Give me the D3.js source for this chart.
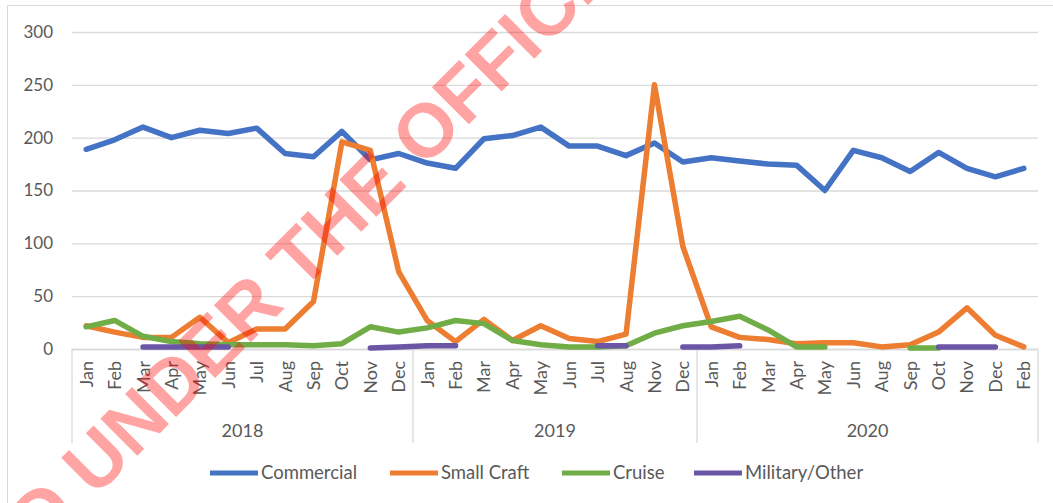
<!DOCTYPE html>
<html>
<head>
<meta charset="utf-8">
<script src="https://cdn.jsdelivr.net/npm/d3@7"></script>
<style>
  html, body { margin: 0; padding: 0; background: #fff; }
  svg { display: block; }
  .tick text { font-family: Lato, "Open Sans", sans-serif; fill: #595959; }
</style>
</head>
<body>
<svg id="chart" width="1053" height="503"></svg>
<script>
// Month categories, grouped by year
const years = ["2018", "2019", "2020"];
const months2018 = ["Jan","Feb","Mar","Apr","May","Jun","Jul","Aug","Sep","Oct","Nov","Dec"];
const months2019 = ["Jan","Feb","Mar","Apr","May","Jun","Jul","Aug","Nov","Dec"];
const months2020 = ["Jan","Feb","Mar","Apr","May","Jun","Aug","Sep","Oct","Nov","Dec","Feb"];

// Monthly counts per vessel type (null = no record that month)
const commercial = [189,198,210,200,207,204,209,185,182,206,179,185,
                    176,171,199,202,210,192,192,183,195,177,
                    181,178,175,174,150,188,181,168,186,171,163,171];
const smallCraft = [22,16,11,11,30,6,19,19,45,196,188,73,
                    27,7,28,8,22,10,7,14,250,97,
                    21,11,9,5,6,6,2,4,16,39,13,2];
const cruise     = [21,27,12,7,5,4,4,4,3,5,21,16,
                    20,27,24,8,4,2,2,3,15,22,
                    26,31,18,2,2,null,null,1,1,null,null,null];
const military   = [null,null,2,2,2,2,null,null,null,null,1,2,
                    3,3,null,null,null,null,3,3,null,2,
                    2,3,null,null,null,null,null,null,2,2,2,null];

const seriesNames  = ["Commercial", "Small Craft", "Cruise", "Military/Other"];
const seriesValues = [commercial, smallCraft, cruise, military];
const seriesColors = ["#4472C4", "#ED7D31", "#70AD47", "#6B56A6"];

const yTicks = [0, 50, 100, 150, 200, 250, 300];

const monthGroups = [months2018, months2019, months2020];
const monthLabels = monthGroups.flat();
const idx = d3.range(monthLabels.length);

const svg = d3.select("#chart");
const plotLeft = 72, plotRight = 1038, plotTop = 32, plotBottom = 349;

const x = d3.scaleBand().domain(idx).range([plotLeft, plotRight]);
const y = d3.scaleLinear().domain([0, 300]).range([plotBottom, plotTop]);
const cx = i => x(i) + x.bandwidth() / 2;

// Outer chart frame
svg.append("rect")
  .attr("x", 7.5).attr("y", 5.5).attr("width", 1060).attr("height", 520)
  .attr("fill", "none").attr("stroke", "#d9d9d9").attr("stroke-width", 1);

// Value axis with gridlines
const yAxis = svg.append("g")
  .attr("transform", `translate(${plotLeft},0)`)
  .call(d3.axisLeft(y).tickValues(yTicks).tickSize(-(plotRight - plotLeft)).tickPadding(19));
yAxis.select(".domain").remove();
yAxis.selectAll(".tick line").attr("stroke", "#d9d9d9").attr("stroke-width", 1.3);
yAxis.selectAll(".tick text").attr("font-size", 17);

// Category axis: months rotated, years below
const xAxis = svg.append("g")
  .attr("transform", `translate(0,${plotBottom})`)
  .call(d3.axisBottom(x).tickSize(0).tickFormat(i => monthLabels[i]));
xAxis.select(".domain").attr("stroke", "#d9d9d9").attr("stroke-width", 1.3);
xAxis.selectAll(".tick text")
  .attr("font-size", 18)
  .attr("transform", "rotate(-90)")
  .attr("text-anchor", "end")
  .attr("x", -12)
  .attr("y", 0)
  .attr("dy", "0.36em");

// Year group boundaries and labels
let count = 0;
const bounds = [0];
monthGroups.forEach(g => { count += g.length; bounds.push(count); });
const boundX = i => (i < monthLabels.length ? x(i) : plotRight);
svg.append("g").selectAll("line")
  .data(bounds)
  .join("line")
  .attr("x1", d => boundX(d)).attr("x2", d => boundX(d))
  .attr("y1", plotBottom).attr("y2", 443)
  .attr("stroke", "#d9d9d9").attr("stroke-width", 1.3);

svg.append("g").selectAll("text")
  .data(years)
  .join("text")
  .attr("x", (d, i) => (boundX(bounds[i]) + boundX(bounds[i + 1])) / 2)
  .attr("y", 437)
  .attr("text-anchor", "middle")
  .attr("font-family", "Lato, sans-serif")
  .attr("font-size", 18)
  .attr("fill", "#595959")
  .text(d => d);

// Series lines
const line = d3.line()
  .defined(d => d.v != null)
  .x(d => cx(d.i))
  .y(d => y(d.v));

svg.append("g").selectAll("path")
  .data(seriesValues)
  .join("path")
  .attr("d", vals => line(vals.map((v, i) => ({ i, v }))))
  .attr("fill", "none")
  .attr("stroke", (d, i) => seriesColors[i])
  .attr("stroke-width", 5.5)
  .attr("stroke-linejoin", "round")
  .attr("stroke-linecap", "round");

// Legend
const legendX = [210, 390, 562, 694];
const legend = svg.append("g").attr("transform", "translate(0,473)");
const item = legend.selectAll("g")
  .data(seriesNames)
  .join("g")
  .attr("transform", (d, i) => `translate(${legendX[i]},0)`);
item.append("line")
  .attr("x1", 0).attr("x2", 48)
  .attr("stroke", (d, i) => seriesColors[i])
  .attr("stroke-width", 5);
item.append("text")
  .attr("x", 51).attr("dy", "0.35em")
  .attr("font-family", "Lato, sans-serif")
  .attr("font-size", 18.5)
  .attr("fill", "#595959")
  .text(d => d);

// Release stamp across the chart
const stamp = svg.append("g")
  .attr("transform", "translate(95,498) rotate(-45)")
  .style("pointer-events", "none");
const stampText = stamp.append("text")
  .attr("font-family", "Liberation Sans, Arial, sans-serif")
  .attr("font-weight", "bold")
  .attr("font-size", 76)
  .attr("fill", "#ff0000")
  .attr("fill-opacity", 0.36)
  .text("RELEASED UNDER THE OFFICIAL INFORMATION ACT");
stampText.attr("x", -stampText.node().getSubStringLength(0, 9));
</script>
</body>
</html>
